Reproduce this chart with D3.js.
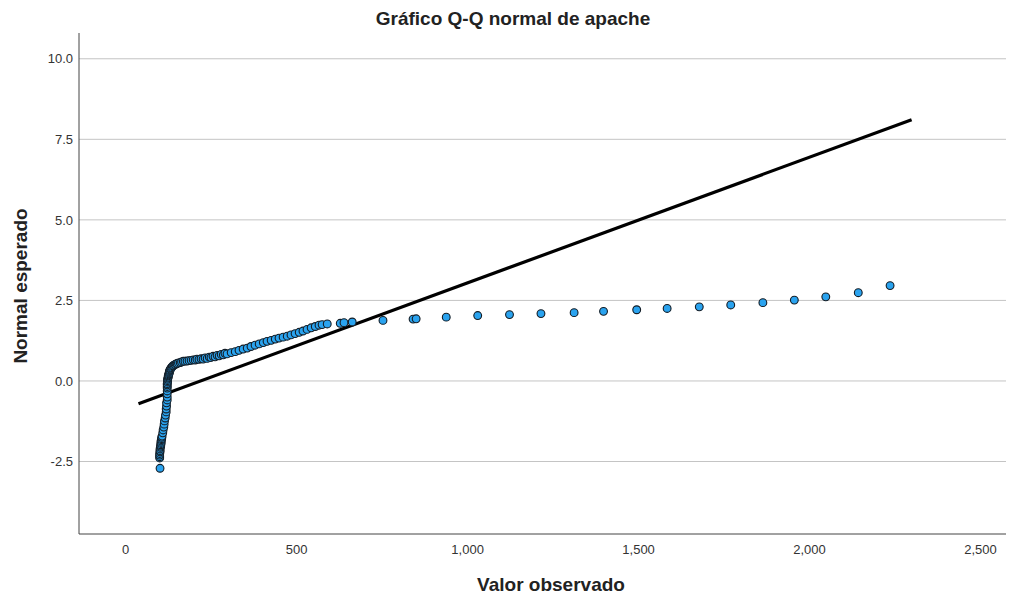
<!DOCTYPE html>
<html>
<head>
<meta charset="utf-8">
<script src="https://cdn.jsdelivr.net/npm/d3@7"></script>
<style>
  html, body { margin: 0; padding: 0; background: #ffffff; }
  svg { display: block; font-family: "Liberation Sans", Arial, sans-serif; }
</style>
</head>
<body>
<svg id="chart" width="1014" height="596"></svg>
<script>
// ---- Data ----
const title = "Gráfico Q-Q normal de apache";
const xLabel = "Valor observado";
const yLabel = "Normal esperado";

const xTicks = [0, 500, 1000, 1500, 2000, 2500];
const yTicks = [-2.5, 0.0, 2.5, 5.0, 7.5, 10.0];

// observed values (apache) and expected normal quantiles
const observed = [
  102, 101, 101, 101, 101, 102, 102, 102, 103, 104,
  104, 105, 105, 105, 106, 107, 107, 108, 110, 111,
  113, 114, 115, 117, 118, 120, 120, 121, 121, 123,
  123, 123, 123, 123, 123, 123, 123, 124, 124, 124,
  125, 126, 126, 127, 128, 129, 129, 130, 131, 133,
  134, 136, 138, 140, 143, 146, 149, 152, 156, 161,
  165, 170, 175, 181, 187, 193, 199, 205, 210, 216,
  222, 228, 234, 240, 246, 251, 257, 263, 269, 275,
  281, 287, 292, 298, 310, 322, 333, 345, 357, 368,
  380, 392, 404, 415, 427, 439, 450, 462, 474, 485,
  497, 509, 520, 532, 544, 556, 567, 576, 591, 629,
  640, 664, 754, 842, 851, 939, 1031, 1124, 1216, 1313,
  1399, 1496, 1585, 1679, 1771, 1865, 1957, 2049, 2144, 2237
];
const expected = [
  -2.71, -2.39, -2.35, -2.30, -2.25, -2.20, -2.16, -2.11, -2.06, -2.02,
  -1.98, -1.94, -1.90, -1.86, -1.82, -1.79, -1.75, -1.71, -1.61, -1.52,
  -1.43, -1.34, -1.24, -1.15, -1.06, -0.96, -0.87, -0.78, -0.68, -0.59,
  -0.50, -0.40, -0.31, -0.22, -0.17, -0.12, -0.08, -0.03, 0.01, 0.05,
  0.09, 0.12, 0.16, 0.19, 0.22, 0.25, 0.28, 0.31, 0.34, 0.37,
  0.40, 0.42, 0.45, 0.47, 0.49, 0.51, 0.53, 0.54, 0.56, 0.57,
  0.59, 0.61, 0.615, 0.62, 0.63, 0.64, 0.655, 0.65, 0.675, 0.67,
  0.69, 0.68, 0.715, 0.70, 0.74, 0.73, 0.765, 0.75, 0.795, 0.78,
  0.825, 0.81, 0.86, 0.84, 0.88, 0.91, 0.95, 0.99, 1.02, 1.07,
  1.11, 1.15, 1.19, 1.23, 1.26, 1.30, 1.33, 1.36, 1.39, 1.43,
  1.47, 1.51, 1.55, 1.60, 1.65, 1.69, 1.73, 1.75, 1.77, 1.79,
  1.81, 1.83, 1.88, 1.92, 1.93, 1.98, 2.03, 2.06, 2.09, 2.12,
  2.16, 2.21, 2.25, 2.30, 2.36, 2.43, 2.51, 2.61, 2.74, 2.96
];

// reference line end points
const lineX = [39, 2300];
const lineY = [-0.71, 8.11];

// ---- Drawing ----
const svg = d3.select("#chart");
const mLeft = 79, mRight = 1006, mTop = 33, mBottom = 534;

const x = d3.scaleLinear().domain([-135, 2576]).range([mLeft, mRight]);
const y = d3.scaleLinear().domain([-4.75, 10.8]).range([mBottom, mTop]);

// gridlines
svg.append("g")
  .selectAll("line")
  .data(yTicks)
  .join("line")
  .attr("x1", mLeft).attr("x2", mRight)
  .attr("y1", d => y(d)).attr("y2", d => y(d))
  .attr("stroke", "#c4c4c4")
  .attr("stroke-width", 1);

// y axis
const yAxis = d3.axisLeft(y).tickValues(yTicks).tickSize(0).tickPadding(6)
  .tickFormat(d => d.toFixed(1));
const gy = svg.append("g").attr("transform", `translate(${mLeft},0)`).call(yAxis);
gy.select(".domain").remove();
gy.selectAll("text").attr("font-size", 13).attr("fill", "#333")
  .attr("font-family", "Liberation Sans, Arial, sans-serif");

// x axis
const xAxis = d3.axisBottom(x).tickValues(xTicks).tickSize(0).tickPadding(11)
  .tickFormat(d3.format(","));
const gx = svg.append("g").attr("transform", `translate(0,${mBottom})`).call(xAxis);
gx.select(".domain").remove();
gx.selectAll("text").attr("font-size", 13).attr("fill", "#333")
  .attr("font-family", "Liberation Sans Narrow, Liberation Sans, Arial, sans-serif");

// axis lines
svg.append("line").attr("x1", mLeft).attr("x2", mLeft).attr("y1", mTop).attr("y2", mBottom)
  .attr("stroke", "#444").attr("stroke-width", 1);
svg.append("line").attr("x1", mLeft).attr("x2", mRight).attr("y1", mBottom).attr("y2", mBottom)
  .attr("stroke", "#444").attr("stroke-width", 1);

// reference line
svg.append("line")
  .attr("x1", x(lineX[0])).attr("y1", y(lineY[0]))
  .attr("x2", x(lineX[1])).attr("y2", y(lineY[1]))
  .attr("stroke", "#000").attr("stroke-width", 3.2);

// points
const pts = observed.map((v, i) => ({ ox: v, ey: expected[i] }));
svg.append("g")
  .selectAll("circle")
  .data(pts)
  .join("circle")
  .attr("cx", d => x(d.ox))
  .attr("cy", d => y(d.ey))
  .attr("r", 3.9)
  .attr("fill", "#2aa3ef")
  .attr("stroke", "#141c24")
  .attr("stroke-width", 1.1);

// title
svg.append("text")
  .attr("x", 513).attr("y", 25)
  .attr("text-anchor", "middle")
  .attr("font-size", 19).attr("font-weight", "bold").attr("fill", "#222")
  .text(title);

// x label
svg.append("text")
  .attr("x", 551).attr("y", 591)
  .attr("text-anchor", "middle")
  .attr("font-size", 19).attr("font-weight", "bold").attr("fill", "#222")
  .text(xLabel);

// y label
svg.append("text")
  .attr("transform", "translate(27,286) rotate(-90)")
  .attr("text-anchor", "middle")
  .attr("font-size", 19).attr("font-weight", "bold").attr("fill", "#222")
  .text(yLabel);
</script>
</body>
</html>
